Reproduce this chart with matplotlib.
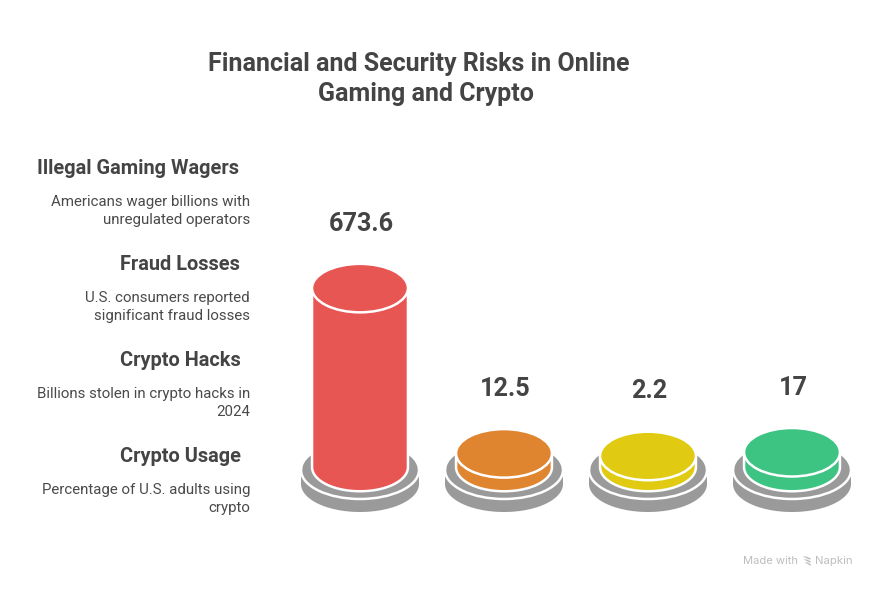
import numpy as np
import matplotlib.pyplot as plt
from matplotlib.patches import Ellipse, Polygon

plt.rcParams['font.family'] = ['Roboto', 'DejaVu Sans']

# Data
categories = ['Illegal Gaming Wagers', 'Fraud Losses', 'Crypto Hacks', 'Crypto Usage']
descriptions = ['Americans wager billions with\nunregulated operators',
                'U.S. consumers reported\nsignificant fraud losses',
                'Billions stolen in crypto hacks in\n2024',
                'Percentage of U.S. adults using\ncrypto']
values = [673.6, 12.5, 2.2, 17]
value_labels = ['673.6', '12.5', '2.2', '17']
colors = ['#E85654', '#DF8530', '#E0CB12', '#3DC483']

TEXT = '#444444'
GRAY = '#9A9A9A'
BASE_Y = 467       # centre of the cylinder's bottom ellipse
MIN_H = 10.5       # height of a zero-value cylinder
PX_PER_UNIT = 0.25
RX, RY = 46.7, 23


def half_ellipse(cx, cy, rx, ry):
    t = np.linspace(0, np.pi, 80)
    return cx + rx * np.cos(t), cy + ry * np.sin(t)


def draw_base(ax, cx):
    # lower plate, white seam, upper plate
    x, y = half_ellipse(cx, 484, 59, 28)
    ax.fill(np.r_[x, cx - 59, cx + 59], np.r_[y, 470, 470], color=GRAY, lw=0, zorder=2)
    ax.add_patch(Ellipse((cx, 470), 118, 58, fc=GRAY, ec='white', lw=1.8, zorder=3))
    ax.plot([cx - 59.5, cx - 59.5], [440, 470], color='white', lw=1, zorder=3)
    ax.plot([cx + 59.5, cx + 59.5], [440, 470], color='white', lw=1, zorder=3)


def draw_cylinder(ax, cx, value, color):
    top = BASE_Y - (MIN_H + PX_PER_UNIT * value)
    x, y = half_ellipse(cx, BASE_Y, RX, RY)
    ax.fill(np.r_[x, cx - RX, cx + RX], np.r_[y, top, top], fc=color, ec='white', lw=3.6, zorder=4)
    ax.fill(np.r_[x, cx - RX, cx + RX], np.r_[y, top, top], fc=color, lw=0, zorder=4)
    ax.add_patch(Ellipse((cx, top), 2 * RX + 2.5, 2 * RY + 2.5, fc=color, ec='white', lw=1.8, zorder=5))
    return top


fig = plt.figure(figsize=(8.76, 5.89), dpi=100, facecolor='white')
ax = fig.add_axes([0, 0, 1, 1])
ax.set_xlim(0, 876)
ax.set_ylim(589, 0)
ax.axis('off')

ax.text(419, 64, 'Financial and Security Risks in Online', ha='center', va='center',
        fontsize=18, fontweight='bold', color=TEXT)
ax.text(426, 94, 'Gaming and Crypto', ha='center', va='center',
        fontsize=18, fontweight='bold', color=TEXT)

# Left-hand labels
for i, (cat, desc) in enumerate(zip(categories, descriptions)):
    y0 = 168 + 96 * i
    ax.text(239 + min(i, 1) + (i > 1), y0, cat, ha='right', va='center', fontsize=14.4, fontweight='bold', color=TEXT)
    ax.text(250, y0 + 43, desc, ha='right', va='center', fontsize=10.8, color='#4A4A4A', linespacing=1.32)

# Cylinders
centers = [360, 504, 648, 792]
for cx, val, lab, col in zip(centers, values, value_labels, colors):
    draw_base(ax, cx)
    top = draw_cylinder(ax, cx, val, col)
    ax.text(cx + 1, top - 64.5, lab, ha='center', va='center', fontsize=18.2, fontweight='bold', color=TEXT)

# Footer mark
ax.text(743, 561, 'Made with', ha='left', va='center', fontsize=8, color='#BDBDBD', fontfamily='Inter')
ax.text(815, 561, 'Napkin', ha='left', va='center', fontsize=8.2, color='#BDBDBD', fontfamily='Inter')
for k in range(3):
    yk = 556.5 + k * 3
    ax.add_patch(Polygon([[802.5 + k, yk], [806 + k, yk], [811, yk + 2], [811 - (2 - k) * 0.6, yk + 3.2]],
                         closed=True, fc='#BDBDBD', ec='none'))

fig.savefig('out.png', dpi=100, facecolor='white')
plt.close(fig)
